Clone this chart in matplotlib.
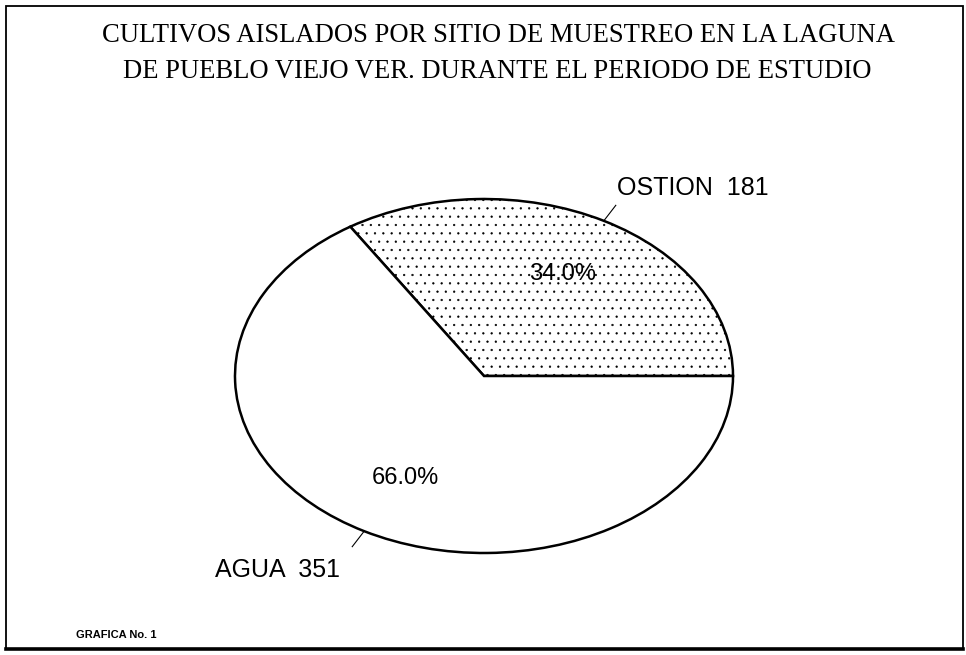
import numpy as np
import matplotlib
matplotlib.use("Agg")
import matplotlib.pyplot as plt
from matplotlib.patches import Rectangle
from matplotlib.lines import Line2D

# datos
sitios = ["OSTION", "AGUA"]
cultivos = [181, 351]
titulo1 = "CULTIVOS AISLADOS POR SITIO DE MUESTREO EN LA LAGUNA"
titulo2 = "DE PUEBLO VIEJO VER. DURANTE EL PERIODO DE ESTUDIO"
pie_txt = "GRAFICA No. 1"

plt.rcParams["font.family"] = ["Liberation Sans", "DejaVu Sans"]
plt.rcParams["hatch.linewidth"] = 0.4

fig = plt.figure(figsize=(9.66, 6.55), dpi=100)
fig.patch.set_facecolor("white")

# marco
fig.add_artist(Rectangle((6/966, 6/655), 957/966, 643/655, transform=fig.transFigure,
                         fill=False, lw=1.3, color="black"))
fig.add_artist(Line2D([6/966, 963/966], [6/655, 6/655], transform=fig.transFigure,
                      lw=2.6, color="black"))

fig.text(499/966, 1 - 41.7/655, titulo1, ha="center", va="baseline",
         family="Liberation Serif", fontsize=19.2)
fig.text(497/966, 1 - 78/655, titulo2, ha="center", va="baseline",
         family="Liberation Serif", fontsize=19.2)
fig.text(76/966, 1 - 638/655, pie_txt, ha="left", va="baseline",
         fontsize=8, weight="bold")

# pastel (eliptico)
ax = fig.add_axes([235/966, (655-553)/655, 498/966, 354/655])
wedges, texts, autotexts = ax.pie(cultivos, startangle=0, counterclock=True,
                                  colors=["white", "white"], autopct="%1.1f%%",
                                  pctdistance=0.66,
                                  wedgeprops=dict(edgecolor="black", linewidth=1.8),
                                  textprops=dict(fontsize=17, color="black"))
wedges[0].set_hatch("..")
for w in wedges:
    w.set_clip_on(False)
ax.set_aspect("auto")
ax.set_xlim(-1, 1)
ax.set_ylim(-1, 1)
ax.axis("off")

frac = np.array(cultivos) / np.sum(cultivos)
ini = np.concatenate([[0], np.cumsum(frac)[:-1]]) * 360
mid = np.deg2rad(ini + frac * 180)
offs = [((0.7, 7.2), "left"), ((-8.6, -21.6), "right")]
for nom, val, a, (o, ha) in zip(sitios, cultivos, mid, offs):
    c, s = np.cos(a), np.sin(a)
    ax.plot([1.0*c, 1.1*c], [1.0*s, 1.1*s], color="black", lw=0.8, clip_on=False)
    ax.annotate(f"{nom}  {val}", xy=(1.1*c, 1.1*s), xytext=o, textcoords="offset points",
                ha=ha, va="baseline", fontsize=18, annotation_clip=False)

fig.savefig("out.png", dpi=100, facecolor="white")
